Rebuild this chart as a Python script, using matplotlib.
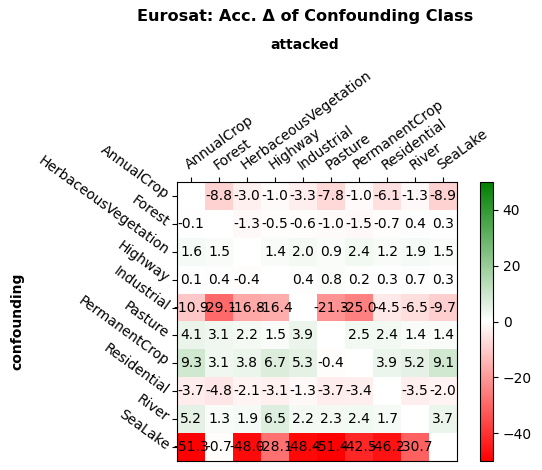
import matplotlib
matplotlib.use("Agg")
import matplotlib.pyplot as plt
import numpy as np
from matplotlib.colors import LinearSegmentedColormap

classes = ["AnnualCrop", "Forest", "HerbaceousVegetation", "Highway", "Industrial",
           "Pasture", "PermanentCrop", "Residential", "River", "SeaLake"]

nan = np.nan
# rows: confounding class, columns: attacked class
delta = np.array([
    [nan, -8.8, -3.0, -1.0, -3.3, -7.8, -1.0, -6.1, -1.3, -8.9],
    [-0.1, nan, -1.3, -0.5, -0.6, -1.0, -1.5, -0.7, 0.4, 0.3],
    [1.6, 1.5, nan, 1.4, 2.0, 0.9, 2.4, 1.2, 1.9, 1.5],
    [0.1, 0.4, -0.4, nan, 0.4, 0.8, 0.2, 0.3, 0.7, 0.3],
    [-10.9, -29.1, -16.8, -16.4, nan, -21.3, -25.0, -4.5, -6.5, -9.7],
    [4.1, 3.1, 2.2, 1.5, 3.9, nan, 2.5, 2.4, 1.4, 1.4],
    [9.3, 3.1, 3.8, 6.7, 5.3, -0.4, nan, 3.9, 5.2, 9.1],
    [-3.7, -4.8, -2.1, -3.1, -1.3, -3.7, -3.4, nan, -3.5, -2.0],
    [5.2, 1.3, 1.9, 6.5, 2.2, 2.3, 2.4, 1.7, nan, 3.7],
    [-51.3, -0.7, -48.0, -28.1, -48.4, -51.4, -42.5, -46.2, -30.7, nan],
])

cmap = LinearSegmentedColormap.from_list("rwg", ["red", "white", "green"])

fig = plt.figure(figsize=(5.42, 4.7), dpi=100)
ax = fig.add_axes([177 / 542, 9 / 470, 280 / 542, 279 / 470])
cax = fig.add_axes([480 / 542, 9 / 470, 13 / 542, 279 / 470])

im = ax.imshow(delta, cmap=cmap, vmin=-50, vmax=50, aspect="auto")

n = len(classes)
for i in range(n):
    for j in range(n):
        if not np.isnan(delta[i, j]):
            ax.text(j, i, f"{delta[i, j]:.1f}", ha="center", va="center", color="black")

ax.set_xticks(range(n))
ax.set_yticks(range(n))
ax.xaxis.tick_top()
ax.set_xticklabels(classes, rotation=36, ha="left", rotation_mode="anchor")
ax.set_yticklabels(classes, rotation=-36, ha="right", va="center", rotation_mode="anchor")

fig.text(305 / 542, 1 - 17 / 470, "Eurosat: Acc. Δ of Confounding Class",
         fontweight="bold", fontsize=11.6, ha="center", va="center")
fig.text(305 / 542, 1 - 45 / 470, "attacked", fontweight="bold", ha="center", va="center")
fig.text(17 / 542, 1 - 321 / 470, "confounding", fontweight="bold", rotation=90,
         ha="center", va="center")

cb = fig.colorbar(im, cax=cax)
cb.set_ticks([-40, -20, 0, 20, 40])

fig.savefig("out.png", dpi=100)
